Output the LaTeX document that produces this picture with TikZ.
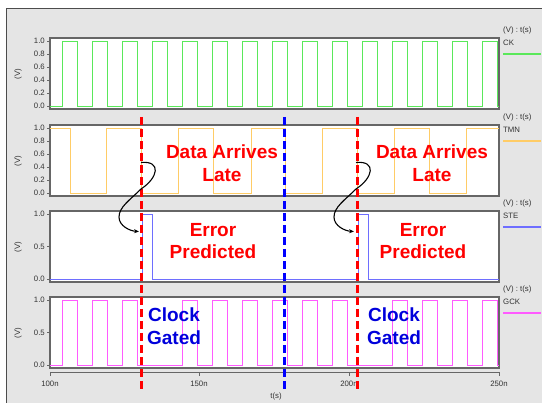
\documentclass[tikz,border=0pt]{standalone}
\usepackage{fontspec}
\setmainfont{Liberation Sans}
\usetikzlibrary{arrows.meta}

\definecolor{ckgreen}{RGB}{90,232,90}
\definecolor{tmnorange}{RGB}{255,204,102}
\definecolor{steblue}{RGB}{110,110,255}
\definecolor{gckpink}{RGB}{255,90,255}
\definecolor{gateblue}{RGB}{0,0,220}

\begin{document}
\begin{tikzpicture}[
	x=1pt, y=-1pt,
	every node/.style={font=\fontsize{7.8}{9}\selectfont, text=black!80, inner sep=1pt},
	panel/.style={draw=black!60, line width=1.1pt, fill=white},
	wave/.style={line width=0.9pt},
	marker/.style={line width=3pt, dash pattern=on 8pt off 4pt},
	callout/.style={font=\fontsize{19}{22.5}\selectfont\bfseries, align=center},
	cause/.style={-{Stealth[length=5pt,width=4pt]}, line width=1.1pt}
	]
	\useasboundingbox (0,0) rectangle (542,403);
	\fill[black!10] (6,8) rectangle (542,403);
	\draw[black!70, line width=0.8pt] (6,403) -- (6,8) -- (542,8);
	
	\foreach \top/\sig/\col in {38/CK/ckgreen, 125/TMN/tmnorange, 211/STE/steblue, 297/GCK/gckpink} {
		\draw[panel] (50,\top) rectangle (499,\top+71);
		\node[anchor=west] (unit\sig) at (502,\top-8) {(V) : t(s)};
		\node[anchor=west] (name\sig) at (502,\top+5) {\sig};
		\draw[\col, line width=1.2pt] (503,\top+16) -- (541,\top+16);
		\node[rotate=90] (volt\sig) at (18,\top+36) {(V)};
	}
	\foreach \top in {38,125}
		\foreach \v/\txt in {0/0.0,1/0.2,2/0.4,3/0.6,4/0.8,5/1.0} {
			\draw[black!60] (47,\top+68-13*\v) -- (50,\top+68-13*\v);
			\node[anchor=east] (tick\top-\v) at (46,\top+68-13*\v) {\txt};
		}
	\foreach \top in {211,297}
		\foreach \v/\txt in {0/0.0,1/0.5,2/1.0} {
			\draw[black!60] (47,\top+68-32.5*\v) -- (50,\top+68-32.5*\v);
			\node[anchor=east] (tick\top-\v) at (46,\top+68-32.5*\v) {\txt};
		}
	
	\draw[black!60, line width=0.8pt] (50,372) -- (499,372);
	\foreach \x/\t in {50/100n,199/150n,349/200n,499/250n} {
		\draw[black!60, line width=0.8pt] (\x,372) -- (\x,376);
		\node (time\t) at (\x,383.5) {\t};
	}
	\node (taxis) at (276,396) {t(s)};
	
	% waveforms
	\draw[wave, ckgreen] (50,106) foreach \k in {0,...,14} { -- ({62+30*\k},106) -- ({62+30*\k},41) -- ({77+30*\k},41) -- ({77+30*\k},106) } -- (499,106);
	\draw[wave, tmnorange] (50,128) foreach \a/\b in {70/106,141/178,213/251,285/322,357/394,429/466} { -- (\a,128) -- (\a,193) -- (\b,193) -- (\b,128) } -- (499,128);
	\draw[wave, steblue] (50,279) foreach \a in {142,358} { -- (\a,279) -- (\a,214) -- (\a+10,214) -- (\a+10,279) } -- (499,279);
	\draw[wave, gckpink] (50,365) foreach \k in {0,1,2,4,5,6,7,8,9,11,12,13,14} { -- ({62+30*\k},365) -- ({62+30*\k},300) -- ({77+30*\k},300) -- ({77+30*\k},365) } -- (499,365);
	
	\draw[marker, red] (141,117) -- (141,392);
	\draw[marker, blue] (284,117) -- (284,389);
	\draw[marker, red] (357,117) -- (357,392);
	
	\node[callout, text=red] (late1txt) at (222,163) {Data Arrives\\Late};
	\node[callout, text=red] (late2txt) at (432,163) {Data Arrives\\Late};
	\node[callout, text=red] (error1) at (213,241) {Error\\Predicted};
	\node[callout, text=red] (error2) at (423,241) {Error\\Predicted};
	\node[callout, text=gateblue] (gated1) at (174,326) {Clock\\Gated};
	\node[callout, text=gateblue] (gated2) at (394,326) {Clock\\Gated};
	
	\foreach \i/\x in {1/141,2/356} {
		\coordinate (late\i) at (\x,162.5);
		\coordinate (cross\i) at (\x,189);
		\coordinate (bend\i) at (\x-22,217);
		\coordinate (pred\i) at (\x-2,231.5);
		\draw[cause] (late\i) .. controls +(21,-2) and +(17,-11) .. (cross\i) .. controls +(-11,11) and +(0,-10) .. (bend\i) .. controls +(0,9) and +(-9,-0.5) .. (pred\i);
	}
\end{tikzpicture}
\end{document}
